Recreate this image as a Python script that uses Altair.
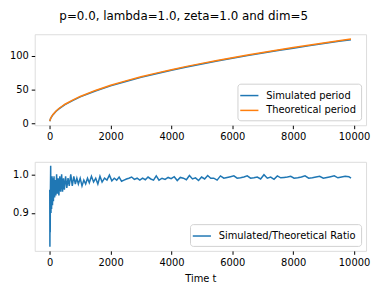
import altair as alt
import pandas as pd

# top panel: period vs time
t_top = [0, 25, 50, 100, 200, 300, 500, 750, 1000, 1500, 2000, 2500, 3000, 3500,
         4000, 4500, 5000, 5500, 6000, 6500, 7000, 7500, 8000, 8500, 9000, 9500, 9900]
theo = [3.0, 7.0, 9.0, 12.5, 17.7, 21.7, 28.0, 34.0, 39.5, 48.4, 56.0, 62.5, 68.5, 74.0,
        79.0, 84.0, 88.4, 92.7, 96.8, 100.8, 104.6, 108.3, 111.8, 115.2, 118.6, 121.9, 124.4]
sim = [2.9, 6.6, 8.7, 12.2, 17.2, 21.1, 27.3, 33.3, 38.8, 47.6, 55.1, 61.6, 67.7, 73.1,
       78.1, 83.1, 87.4, 91.8, 95.9, 99.9, 103.7, 107.4, 110.9, 114.3, 117.7, 121.0, 123.4]

# bottom panel: ratio vs time
t_bot = [0, 5, 10, 15, 20, 30, 40, 50, 60, 75, 90, 105, 120, 140, 160, 180, 200, 225, 250,
         275, 300, 330, 360, 390, 420, 450, 480, 520, 560, 600, 640, 690, 740, 790, 840,
         890, 940, 1000, 1060, 1120, 1180, 1240, 1300, 1370, 1440, 1510, 1580, 1650, 1720,
         1800, 1880, 1960, 2040, 2120, 2200, 2280, 2360, 2440, 2520, 2600, 2690, 2780,
         2870, 2960, 3050, 3140, 3230, 3320, 3410, 3500, 3590, 3690, 3790, 3890, 3990,
         4090, 4190, 4290, 4390, 4490, 4590, 4690, 4790, 4890, 4990, 5090, 5190, 5290,
         5390, 5500, 5610, 5720, 5830, 5940, 6050, 6160, 6270, 6380, 6490, 6600, 6710,
         6820, 6930, 7040, 7150, 7260, 7370, 7480, 7590, 7700, 7810, 7920, 8030, 8150,
         8270, 8390, 8510, 8630, 8750, 8870, 8990, 9110, 9230, 9350, 9470, 9590, 9710,
         9830, 9900]
ratio = [0.96, 0.812, 0.94, 0.85, 0.95, 1.022, 0.90, 0.99, 0.91, 0.995, 0.92, 0.99, 0.93,
         0.995, 0.94, 0.985, 0.945, 1.0, 0.95, 0.99, 0.945, 0.995, 0.955, 1.0, 0.955, 0.99,
         0.96, 0.995, 0.965, 0.99, 0.97, 1.0, 0.97, 0.995, 0.975, 0.99, 0.975, 0.99, 0.97,
         0.985, 0.975, 0.99, 0.978, 0.995, 0.98, 0.99, 0.975, 0.995, 0.98, 0.99, 0.985,
         0.998, 0.983, 0.99, 0.985, 0.993, 0.982, 0.985, 0.988, 0.99, 0.993, 0.987, 0.99,
         0.985, 0.99, 0.986, 0.993, 0.988, 0.985, 0.996, 0.985, 0.99, 0.987, 0.992, 0.989,
         0.994, 0.984, 0.992, 0.99, 0.986, 0.997, 0.988, 0.991, 0.984, 0.993, 0.988, 0.997,
         0.99, 0.99, 0.985, 0.996, 0.99, 0.992, 0.994, 0.996, 0.99, 0.991, 0.993, 0.996,
         0.99, 0.991, 0.993, 0.988, 0.999, 0.99, 0.993, 0.987, 0.996, 0.991, 0.992, 0.993,
         0.995, 0.99, 0.991, 0.993, 0.996, 0.99, 0.991, 0.993, 0.995, 0.99, 0.992, 0.994,
         0.996, 0.991, 0.993, 0.995, 0.994, 0.99]

top_df = pd.DataFrame({
    "t": t_top * 2,
    "v": sim + theo,
    "series": ["Simulated period"] * len(t_top) + ["Theoretical period"] * len(t_top),
})
bot_df = pd.DataFrame({"t": t_bot, "v": ratio,
                       "series": ["Simulated/Theoretical Ratio"] * len(t_bot)})

FONT = "DejaVu Sans"
xscale = alt.Scale(domain=[-495, 10395], nice=False, zero=False)
xaxis_kw = dict(values=[0, 2000, 4000, 6000, 8000, 10000], format="d", grid=False,
                domain=False, tickSize=3.5, tickColor="black", labelColor="black",
                labelFontSize=10, labelFont=FONT, labelPadding=3)
yaxis_kw = dict(title=None, grid=False, domain=False, tickSize=3.5, tickColor="black",
                labelColor="black", labelFontSize=10, labelFont=FONT, labelPadding=3,
                minExtent=23, maxExtent=23)

def legend():
    return alt.Legend(orient="bottom-right", title=None, symbolType="M-1.5,0H1.5",
                      symbolSize=150, symbolStrokeWidth=1.5, labelFontSize=10,
                      labelFont=FONT, labelColor="black", strokeColor="#d0d0d0",
                      fillColor="white", padding=5, cornerRadius=3, offset=5,
                      rowPadding=3, labelOffset=10)

top = alt.Chart(top_df).mark_line(strokeWidth=1.5).encode(
    x=alt.X("t:Q", scale=xscale, axis=alt.Axis(title=None, **xaxis_kw)),
    y=alt.Y("v:Q", scale=alt.Scale(domain=[-3.07, 131.5], nice=False, zero=False),
            axis=alt.Axis(values=[0, 50, 100], **yaxis_kw)),
    color=alt.Color("series:N", scale=alt.Scale(
        domain=["Simulated period", "Theoretical period"],
        range=["#1f77b4", "#ff7f0e"]), legend=legend()),
).properties(width=335, height=92)

bot = alt.Chart(bot_df).mark_line(strokeWidth=1.5).encode(
    x=alt.X("t:Q", scale=xscale, axis=alt.Axis(title="Time t", titleFontSize=10,
                                               titleFont=FONT, titleFontWeight="normal",
                                               titleColor="black", titlePadding=6,
                                               **xaxis_kw)),
    y=alt.Y("v:Q", scale=alt.Scale(domain=[0.8015, 1.0325], nice=False, zero=False),
            axis=alt.Axis(values=[0.9, 1.0], format=".1f", **yaxis_kw)),
    color=alt.Color("series:N", scale=alt.Scale(
        domain=["Simulated/Theoretical Ratio"], range=["#1f77b4"]), legend=legend()),
).properties(width=335, height=90)

chart = alt.vconcat(top, bot, spacing=19).resolve_scale(color="independent").resolve_legend(
    color="independent"
).properties(
    title=alt.TitleParams("p=0.0, lambda=1.0, zeta=1.0 and dim=5", fontSize=12,
                          font=FONT, fontWeight="normal", color="black",
                          anchor="middle", offset=11, dx=-6)
).configure_view(stroke="black", strokeWidth=0.8).configure(
    padding={"left": 0, "top": 0, "right": 0, "bottom": 0}, background="white")

chart.save("out.html", embed_options={"renderer": "svg", "actions": False})
